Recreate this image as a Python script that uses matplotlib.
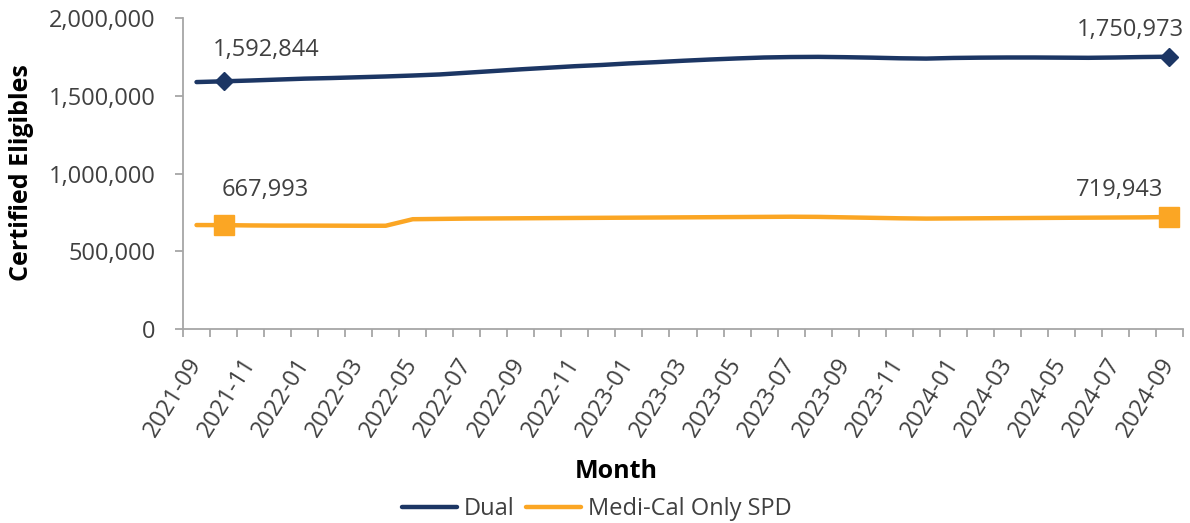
import matplotlib
matplotlib.use("Agg")
import matplotlib.pyplot as plt
from matplotlib.ticker import FuncFormatter, FixedLocator

months = ["2021-09", "2021-10", "2021-11", "2021-12", "2022-01", "2022-02", "2022-03",
          "2022-04", "2022-05", "2022-06", "2022-07", "2022-08", "2022-09", "2022-10",
          "2022-11", "2022-12", "2023-01", "2023-02", "2023-03", "2023-04", "2023-05",
          "2023-06", "2023-07", "2023-08", "2023-09", "2023-10", "2023-11", "2023-12",
          "2024-01", "2024-02", "2024-03", "2024-04", "2024-05", "2024-06", "2024-07",
          "2024-08", "2024-09"]

dual = [1588000, 1592844, 1598000, 1604000, 1610000, 1614000, 1619000, 1624000,
        1630000, 1637000, 1648000, 1659000, 1670000, 1680000, 1690000, 1698000,
        1708000, 1716000, 1725000, 1733000, 1740000, 1746000, 1749000, 1750000,
        1748000, 1745000, 1741000, 1739000, 1743000, 1745000, 1746000, 1746000,
        1745000, 1744000, 1746000, 1749000, 1750973]

medi_cal = [668500, 667993, 666000, 665000, 665000, 664500, 664000, 664000,
            706000, 708000, 710000, 711000, 712000, 713000, 714000, 715000,
            716000, 717000, 718000, 719000, 720000, 721000, 722000, 721000,
            718000, 715000, 712000, 710000, 711000, 712000, 713000, 714000,
            715000, 716000, 717000, 718000, 719943]

series_names = ["Dual", "Medi-Cal Only SPD"]
label_idx = [1, 36]

NAVY = "#1C3664"
ORANGE = "#FBA624"
GREY = "#A6A6A6"
TXT = "#404040"

plt.rcParams["font.family"] = ["Open Sans", "DejaVu Sans"]

fig = plt.figure(figsize=(11.9, 5.23), dpi=100)
ax = fig.add_axes([183/1190, 1-329/523, 1000/1190, 311/523])

x = list(range(len(months)))
l1, = ax.plot(x, dual, color=NAVY, lw=3.2, solid_capstyle="round", solid_joinstyle="round")
l2, = ax.plot(x, medi_cal, color=ORANGE, lw=3.2, solid_capstyle="round", solid_joinstyle="round")
ax.plot([x[i] for i in label_idx], [dual[i] for i in label_idx], ls="none",
        marker="D", ms=9.5, color=NAVY)
ax.plot([x[i] for i in label_idx], [medi_cal[i] for i in label_idx], ls="none",
        marker="s", ms=14, color=ORANGE)

fs = 17
# data labels
ax.annotate(f"{dual[1]:,}", (x[1], dual[1]), xytext=(-11, 31), textcoords="offset pixels",
            ha="left", va="center", fontsize=fs, color=TXT)
ax.annotate(f"{dual[36]:,}", (x[36], dual[36]), xytext=(14, 27), textcoords="offset pixels",
            ha="right", va="center", fontsize=fs, color=TXT)
ax.annotate(f"{medi_cal[1]:,}", (x[1], medi_cal[1]), xytext=(-2, 35), textcoords="offset pixels",
            ha="left", va="center", fontsize=fs, color=TXT)
ax.annotate(f"{medi_cal[36]:,}", (x[36], medi_cal[36]), xytext=(-6, 27), textcoords="offset pixels",
            ha="right", va="center", fontsize=fs, color=TXT)

ax.set_xlim(-0.5, len(months) - 0.5)
ax.set_ylim(0, 2000000)
ax.set_yticks([0, 500000, 1000000, 1500000, 2000000])
ax.yaxis.set_major_formatter(FuncFormatter(lambda v, p: f"{int(v):,}"))

ax.set_xticks(x[::2])
ax.set_xticklabels(months[::2], rotation=58, ha="right", va="center", rotation_mode="anchor")
ax.xaxis.set_minor_locator(FixedLocator([i - 0.5 for i in range(len(months) + 1)]))
ax.tick_params(axis="x", which="major", length=0, pad=22, labelsize=fs, labelcolor=TXT)
ax.tick_params(axis="x", which="minor", length=6, width=1.3, color=GREY, direction="out")
ax.tick_params(axis="y", length=6, width=1.3, color=GREY, pad=14, labelsize=fs, labelcolor=TXT)

for s in ["top", "right"]:
    ax.spines[s].set_visible(False)
for s in ["left", "bottom"]:
    ax.spines[s].set_color(GREY)
    ax.spines[s].set_linewidth(1.3)

fig.text(22/1190, 1-173/523, "Certified Eligibles", rotation=90, ha="center", va="center",
         fontsize=18, fontweight="bold", color="black")
fig.text(616/1190, 1-472/523, "Month", ha="center", va="center",
         fontsize=18, fontweight="bold", color="black")

fig.legend([l1, l2], series_names, loc="center", bbox_to_anchor=(597/1190, 1-509/523),
           ncol=2, frameon=False, fontsize=fs, handlelength=2.3, handletextpad=0.3,
           columnspacing=0.5, borderpad=0, labelcolor=TXT)

fig.savefig("out.png", dpi=100)
